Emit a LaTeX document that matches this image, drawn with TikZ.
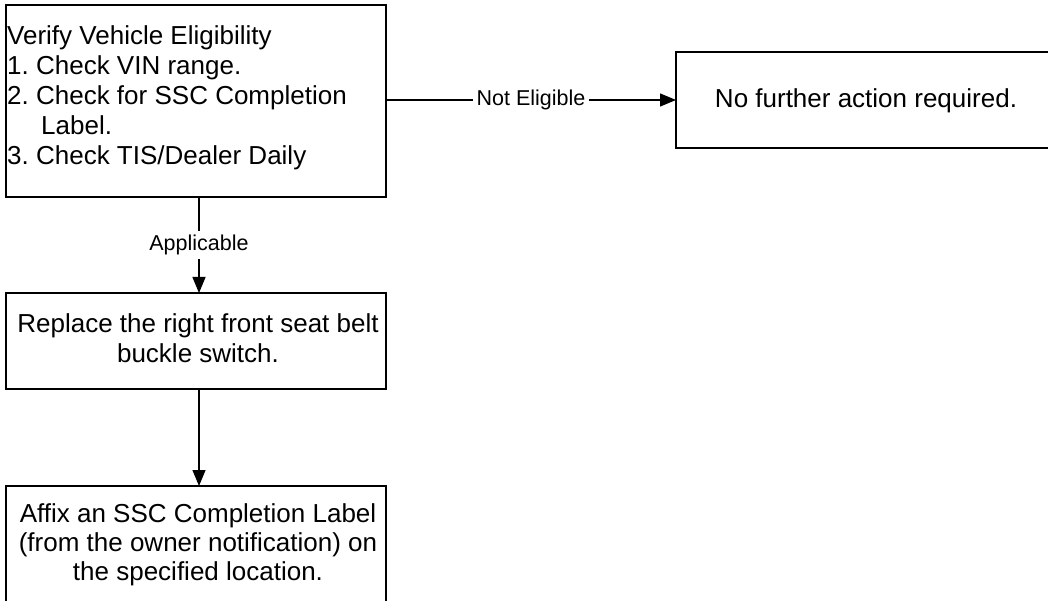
\documentclass[tikz,border=0pt]{standalone}
\usepackage{fontspec}
\setmainfont{Liberation Sans}
\usetikzlibrary{arrows.meta}
\frenchspacing
\begin{document}
\begin{tikzpicture}[x=1pt,y=-1pt,
  box/.style={draw=black, line width=1.3pt, inner sep=0pt, outer sep=0pt},
  main/.style={font=\fontsize{26}{30}\selectfont, inner sep=0pt},
  lbl/.style={font=\fontsize{21.5}{24}\selectfont, fill=white, inner sep=3.5pt},
  conn/.style={draw=black, line width=1.3pt, -{Triangle[length=16pt,width=13pt]}}]
\clip (0,0) rectangle (1048,601);
\fill[white] (0,0) rectangle (1048,601);

% boxes
\node[box, minimum width=380pt, minimum height=192pt] (b1) at (196,101) {};
\node[box, minimum width=400pt, minimum height=96pt] (b2) at (876,100) {};
\node[box, minimum width=380pt, minimum height=96pt] (b3) at (196,341) {};
\node[box, minimum width=380pt, minimum height=120pt] (b4) at (196,546) {};

% texts of box 1
\node[main, anchor=base west] (t1) at (7,45) {Verify Vehicle Eligibility};
\node[main, anchor=base west] (t2) at (7,75) {1. Check VIN range.};
\node[main, anchor=base west] (t3) at (7,105) {2. Check for SSC Completion};
\node[main, anchor=base west] (t4) at (41,135) {Label.};
\node[main, anchor=base west] (t5) at (7,165) {3. Check TIS/Dealer Daily};

% text of box 2
\node[main, anchor=base] (t6) at (866,108) {No further action required.};

% texts of box 3
\node[main, anchor=base] (t7) at (198,332) {Replace the right front seat belt};
\node[main, anchor=base] (t8) at (198,362) {buckle switch.};

% texts of box 4
\node[main, anchor=base] (t9) at (198,522) {Affix an SSC Completion Label};
\node[main, anchor=base] (t10) at (198,551) {(from the owner notification) on};
\node[main, anchor=base] (t11) at (198,580) {the specified location.};

% connectors
\draw[conn] (b1.east |- b2.west) -- node[lbl] (n1) {Not Eligible} (b2.west);
\draw[conn] ([xshift=3pt]b1.south) -- node[lbl] (n2) {Applicable} ([xshift=3pt]b3.north);
\draw[conn] ([xshift=3pt]b3.south) -- ([xshift=3pt]b4.north);
\end{tikzpicture}
\end{document}
